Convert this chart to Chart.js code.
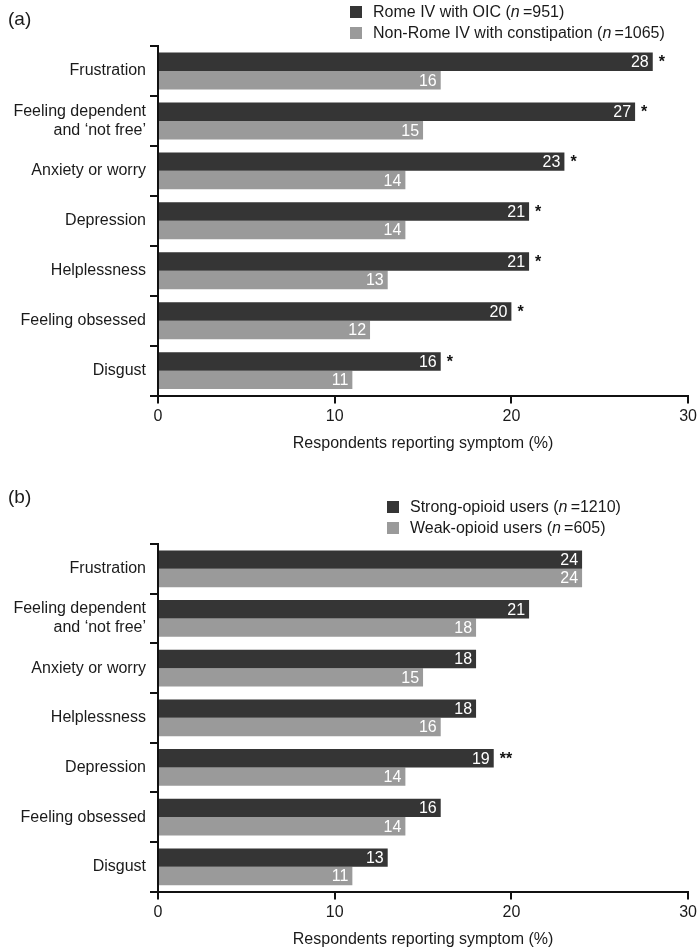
<!DOCTYPE html>
<html lang="en">
<head>
  <meta charset="UTF-8">
  <title>Respondents reporting symptom</title>
  <script src="https://cdn.jsdelivr.net/npm/chart.js"></script>
  <style>
    body { margin: 0; background: #fff; font-family: "Liberation Sans", Arial, sans-serif; color: #1a1a1a; }
    .page { position: relative; width: 700px; height: 950px; overflow: hidden; }
    .panel { position: absolute; left: 0; width: 700px; height: 475px; }
    .tag { position: absolute; left: 8px; font-size: 19px; }
    .legend { position: absolute; font-size: 16px; line-height: 21px; }
    .legend div { white-space: nowrap; }
    .box { display: inline-block; width: 12px; height: 12px; margin-right: 11px; vertical-align: -1px; }
  </style>
</head>
<body>
<div class="page">
  <div class="panel" style="top:0"><canvas id="chartA"></canvas></div>
  <div class="panel" style="top:475px"><canvas id="chartB"></canvas></div>

  <div class="tag" style="top:8px">(a)</div>
  <div class="legend" style="left:350px; top:1px">
    <div><span class="box" style="background:#353535"></span>Rome IV with OIC (<i>n</i>&thinsp;=951)</div>
    <div><span class="box" style="background:#9a9a9a"></span>Non-Rome IV with constipation (<i>n</i>&thinsp;=1065)</div>
  </div>

  <div class="tag" style="top:486px">(b)</div>
  <div class="legend" style="left:387px; top:496px">
    <div><span class="box" style="background:#353535"></span>Strong-opioid users (<i>n</i>&thinsp;=1210)</div>
    <div><span class="box" style="background:#9a9a9a"></span>Weak-opioid users (<i>n</i>&thinsp;=605)</div>
  </div>
</div>

<script>
  // panel (a)
  const labelsA = ['Frustration', ['Feeling dependent', 'and \u2018not free\u2019'], 'Anxiety or worry',
    'Depression', 'Helplessness', 'Feeling obsessed', 'Disgust'];
  const romeOIC = [28, 27, 23, 21, 21, 20, 16];
  const nonRome = [16, 15, 14, 14, 13, 12, 11];
  const sigA = ['*', '*', '*', '*', '*', '*', '*'];

  // panel (b)
  const labelsB = ['Frustration', ['Feeling dependent', 'and \u2018not free\u2019'], 'Anxiety or worry',
    'Helplessness', 'Depression', 'Feeling obsessed', 'Disgust'];
  const strongUsers = [24, 21, 18, 18, 19, 16, 13];
  const weakUsers = [24, 18, 15, 16, 14, 14, 11];
  const sigB = ['', '', '', '', '**', '', ''];

  const xTicks = [0, 10, 20, 30];
  const FONT = '"Liberation Sans", Arial, sans-serif';
  const DARK = '#353535';
  const LIGHT = '#9a9a9a';

  // white numbers inside bar ends, plus significance stars after dark bars
  const barText = {
    id: 'barText',
    afterDatasetsDraw(chart, args, opts) {
      const ctx = chart.ctx;
      ctx.save();
      ctx.font = '16px ' + FONT;
      ctx.textBaseline = 'middle';
      chart.data.datasets.forEach((ds, di) => {
        const meta = chart.getDatasetMeta(di);
        meta.data.forEach((bar, i) => {
          ctx.fillStyle = '#fff';
          ctx.textAlign = 'right';
          ctx.fillText(ds.data[i], bar.x - 4, bar.y + 1);
          if (di === 0 && opts.sig[i]) {
            ctx.fillStyle = '#111';
            ctx.textAlign = 'left';
            ctx.font = 'bold 16px ' + FONT;
            ctx.fillText(opts.sig[i], bar.x + 6, bar.y + 1);
            ctx.font = '16px ' + FONT;
          }
        });
      });
      ctx.restore();
    }
  };

  function makeChart(id, labels, dark, light, sig, top, bottom) {
    return new Chart(document.getElementById(id), {
      type: 'bar',
      data: {
        labels: labels,
        datasets: [
          { data: dark, backgroundColor: DARK, categoryPercentage: 0.74, barPercentage: 1 },
          { data: light, backgroundColor: LIGHT, categoryPercentage: 0.74, barPercentage: 1 }
        ]
      },
      options: {
        indexAxis: 'y',
        responsive: true,
        maintainAspectRatio: false,
        animation: false,
        layout: { padding: { top: top, right: 0, bottom: bottom, left: 0 } },
        plugins: {
          legend: { display: false },
          tooltip: { enabled: false },
          barText: { sig: sig }
        },
        scales: {
          x: {
            min: 0,
            max: 30,
            afterBuildTicks: axis => { axis.ticks = xTicks.map(v => ({ value: v })); },
            grid: { drawOnChartArea: false, color: '#111', lineWidth: 2, tickLength: 8 },
            border: { color: '#111', width: 2 },
            ticks: { color: '#1a1a1a', padding: 3, font: { family: FONT, size: 16 } },
            title: {
              display: true,
              text: 'Respondents reporting symptom (%)',
              color: '#1a1a1a',
              padding: { top: 5, bottom: 0 },
              font: { family: FONT, size: 16 }
            }
          },
          y: {
            afterFit: axis => { axis.width = 158; },
            grid: { offset: true, drawOnChartArea: false, color: '#111', lineWidth: 2, tickLength: 8 },
            border: { color: '#111', width: 2 },
            ticks: { color: '#1a1a1a', padding: 4, font: { family: FONT, size: 16, lineHeight: 1.2 } }
          }
        }
      },
      plugins: [barText]
    });
  }

  makeChart('chartA', labelsA, romeOIC, nonRome, sigA, 46, 22);
  makeChart('chartB', labelsB, strongUsers, weakUsers, sigB, 69, 1);
</script>
</body>
</html>
